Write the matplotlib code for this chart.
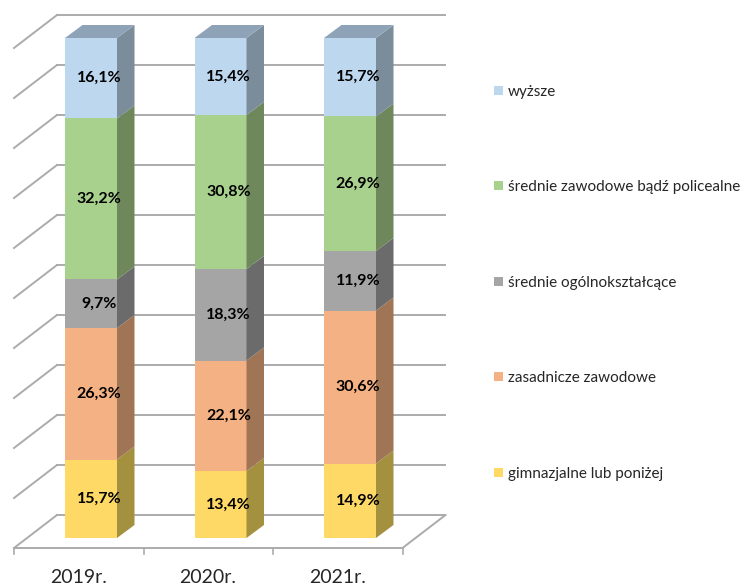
import numpy as np
import matplotlib
matplotlib.use('Agg')
import matplotlib.pyplot as plt
from matplotlib.patches import Polygon, Patch

plt.rcParams['font.family'] = ['Lato', 'DejaVu Sans']

years = ['2019r.', '2020r.', '2021r.']
levels = ['gimnazjalne lub poniżej', 'zasadnicze zawodowe', 'średnie ogólnokształcące',
          'średnie zawodowe bądź policealne', 'wyższe']
gimnazjalne = [15.7, 13.4, 14.9]
zasadnicze = [26.3, 22.1, 30.6]
ogolnoksztalcace = [9.7, 18.3, 11.9]
policealne = [32.2, 30.8, 26.9]
wyzsze = [16.1, 15.4, 15.7]
series = [gimnazjalne, zasadnicze, ogolnoksztalcace, policealne, wyzsze]

colors = ['#FFD966', '#F4B183', '#A5A5A5', '#A9D18E', '#BDD7EE']
side_colors = ['#A39140', '#A07555', '#6B6B6B', '#6E885C', '#7B8C9B']
top_color = '#8FA3B8'
grid_color = '#ABABAB'

# pixel calibration of the pseudo 3d box: one category = 129.5 px, 1% = 5 px
px_x = 129.5
px_y = 5.0
bar_half = 26 / px_x
depth_x = 17.5 / px_x
depth_y = 13 / px_y
wall_x = 43 / px_x
wall_y = 33 / px_y
floor_y = -10 / px_y
left = -77 / px_x
right = left + 3

fig = plt.figure(figsize=(7.4, 5.85), dpi=100)
ax = fig.add_axes([0, 0, 1, 1])
ax.set_xlim(-91 / px_x, 649 / px_x)
ax.set_ylim(-47 / px_y, 538 / px_y)
ax.axis('off')

# walls and floor
for val in np.arange(0, 101, 10):
    y0 = floor_y + val
    ax.plot([left, left + wall_x], [y0, y0 + wall_y], color=grid_color, lw=1.4, zorder=1)
    ax.plot([left + wall_x, right + wall_x], [y0 + wall_y, y0 + wall_y], color=grid_color, lw=1.4, zorder=1)
ax.plot([left, right], [floor_y, floor_y], color=grid_color, lw=1.4, zorder=1)
ax.plot([right, right + wall_x], [floor_y, floor_y + wall_y], color=grid_color, lw=1.4, zorder=1)

for i, year in enumerate(years):
    x_tick = left + i
    ax.plot([x_tick, x_tick], [floor_y, floor_y - 1.2], color=grid_color, lw=1.2, zorder=1)
    ax.text(i - 12.5 / px_x, -7.9, year, ha='center', va='center', fontsize=14, color='#262626')
ax.plot([right, right], [floor_y, floor_y - 1.2], color=grid_color, lw=1.2, zorder=1)

# stacked bars
for i in range(len(years)):
    x1 = i - bar_half
    x2 = i + bar_half
    bottom = 0
    for vals, col, side in zip(series, colors, side_colors):
        top = bottom + vals[i]
        ax.add_patch(Polygon([(x1, bottom), (x2, bottom), (x2, top), (x1, top)],
                             facecolor=col, edgecolor='none', zorder=3))
        ax.add_patch(Polygon([(x2, bottom), (x2 + depth_x, bottom + depth_y),
                              (x2 + depth_x, top + depth_y), (x2, top)],
                             facecolor=side, edgecolor='none', zorder=3))
        ax.text(i + 8 / px_x, bottom + vals[i] / 2, f'{vals[i]:.1f}%'.replace('.', ','),
                ha='center', va='center', fontsize=11.5, fontweight='bold', color='black', zorder=4)
        bottom = top
    ax.add_patch(Polygon([(x1, bottom), (x2, bottom), (x2 + depth_x, bottom + depth_y),
                          (x1 + depth_x, bottom + depth_y)],
                         facecolor=top_color, edgecolor='none', zorder=3))

handles = [Patch(facecolor=c, edgecolor='none', label=l) for c, l in zip(colors, levels)]
fig.legend(handles=handles[::-1], loc='upper left', bbox_to_anchor=(0.668, 0.855), frameon=False,
           fontsize=11, labelcolor='#262626', handlelength=0.55, handleheight=0.55,
           handletextpad=0.32, labelspacing=5.33, borderpad=0, borderaxespad=0)

fig.savefig('out.png', dpi=100)
